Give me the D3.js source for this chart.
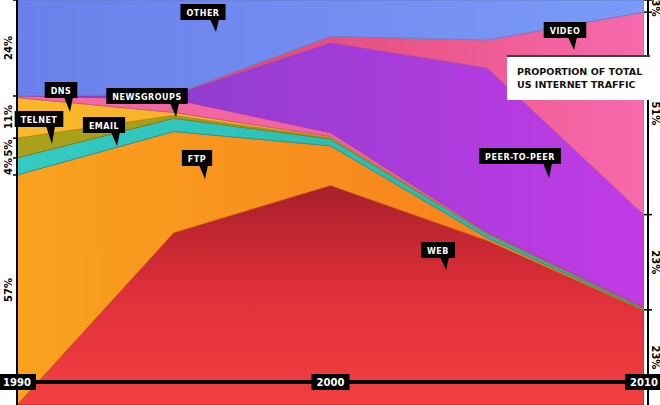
<!DOCTYPE html>
<html><head><meta charset="utf-8">
<script src="https://cdn.jsdelivr.net/npm/d3@7"></script>
<style>body{margin:0;background:#fff}svg{display:block}</style>
</head><body>
<svg id="c" width="660" height="405"></svg>
<script>
const years = [1990, 1995, 2000, 2005, 2010];
const web        = [0,    41.5, 54.8, 40.7, 23.5];
const ftp        = [56.8, 24.4, 9.9,  0.7,  0.3];
const email      = [4.2,  3.2,  1.7,  1.0,  0.3];
const telnet     = [4.9,  0.7,  0.3,  0.1,  0.1];
const dns        = [10.0, 0.7,  0.3,  0.1,  0.1];
const newsgroups = [0.4,  3.2,  1.0,  0.2,  0.1];
const p2p        = [0,    1.2,  22.5, 40.7, 23.0];
const video      = [0,    0.0,  1.5,  6.9,  50.6];
const other      = [23.7, 22.7, 9.1,  9.9,  3.0];
const seriesNames = ["web","ftp","email","telnet","dns","newsgroups","p2p","video","other"];
const seriesVals = [web,ftp,email,telnet,dns,newsgroups,p2p,video,other];
const leftTicks = [{lab:"57%",a:0,b:56.8},{lab:"4%",a:56.8,b:61},{lab:"5%",a:61,b:65.9},{lab:"11%",a:65.9,b:76.3},{lab:"24%",a:76.3,b:100}];
const rightTicks = [{lab:"23%",a:0,b:23.5},{lab:"23%",a:23.5,b:47},{lab:"51%",a:47,b:97},{lab:"3%",a:97,b:100}];
const yearLabels = ["1990","2000","2010"];
const callouts = [
 {t:"OTHER",x:203,y:12,tx:216,ty:32},{t:"VIDEO",x:565,y:30,tx:574,ty:50},
 {t:"DNS",x:61,y:90,tx:70,ty:112},{t:"NEWSGROUPS",x:147,y:96,tx:176,ty:117},
 {t:"TELNET",x:39,y:119,tx:52,ty:144},{t:"EMAIL",x:104,y:125,tx:117,ty:146},
 {t:"FTP",x:197,y:158,tx:205,ty:179},{t:"PEER-TO-PEER",x:520,y:156,tx:549,ty:178},
 {t:"WEB",x:438,y:250,tx:446,ty:270}];

const colors = {web:["#f03a3a","#c9232e"],ftp:["#f9a21e","#f7781c"],email:["#34cbc2","#22b3ad"],telnet:["#aaa11c","#9a9416"],
 dns:["#f9b82a","#f6a623"],newsgroups:["#f36aa5","#ee5e98"],p2p:["#7e3ec8","#c23be6"],video:["#d8344e","#f66aac"],other:["#6a80ea","#7b9af7"]};

const svg = d3.select("#c");
const W=660,H=405;
const x = d3.scaleLinear().domain([1990,2010]).range([17,644]);
const y = d3.scaleLinear().domain([0,100]).range([405,0]);
const table = years.map((yr,i)=>{const o={year:yr};seriesNames.forEach((n,k)=>o[n]=seriesVals[k][i]);return o;});
const stack = d3.stack().keys(seriesNames).offset(d3.stackOffsetExpand);
const layers = stack(table);
const defs = svg.append("defs");
seriesNames.forEach(n=>{
  const g=defs.append("linearGradient").attr("id","g_"+n).attr("x1","0").attr("x2","1").attr("y1","0").attr("y2","0");
  g.append("stop").attr("offset","0").attr("stop-color",colors[n][0]);
  g.append("stop").attr("offset","1").attr("stop-color",colors[n][1]);
});
const wg=defs.append("linearGradient").attr("id","g_webv").attr("x1","0").attr("x2","0").attr("y1","0").attr("y2","1");
wg.append("stop").attr("offset","0").attr("stop-color","#a81f2a");
wg.append("stop").attr("offset","0.5").attr("stop-color","#e0303a");
wg.append("stop").attr("offset","1").attr("stop-color","#f24040");
const area = d3.area().x(d=>x(d.data.year)).y0(d=>y(d[0]*100)).y1(d=>y(d[1]*100));
svg.append("rect").attr("x",0).attr("y",0).attr("width",W).attr("height",H).attr("fill","#fff");
svg.append("g").selectAll("path").data(layers).join("path")
  .attr("d",area).attr("fill",d=>d.key==="web"?"url(#g_webv)":"url(#g_"+d.key+")")
  .attr("stroke",d=>d3.color(colors[d.key][1]).darker(0.6)).attr("stroke-width",0.8);
const ax = svg.append("g");
ax.append("rect").attr("x",0).attr("y",0).attr("width",17).attr("height",H).attr("fill","#fff");
ax.append("rect").attr("x",644).attr("y",0).attr("width",16).attr("height",H).attr("fill","#fff");
ax.append("line").attr("x1",17).attr("x2",17).attr("y1",0).attr("y2",H).attr("stroke","#000").attr("stroke-width",2);
ax.append("line").attr("x1",648).attr("x2",648).attr("y1",0).attr("y2",H).attr("stroke","#000").attr("stroke-width",2);
leftTicks.forEach(t=>{
  ax.append("line").attr("x1",13).attr("x2",17).attr("y1",y(t.b)).attr("y2",y(t.b)).attr("stroke","#000").attr("stroke-width",1.5);
  const cy=(y(t.a)+y(t.b))/2;
  ax.append("text").attr("transform",`translate(8,${cy}) rotate(-90)`).attr("text-anchor","middle").attr("dy","0.35em")
   .attr("font-family","'DejaVu Sans', sans-serif").attr("font-weight","bold").attr("font-size",10).text(t.lab);
});
rightTicks.forEach(t=>{
  ax.append("line").attr("x1",644).attr("x2",652).attr("y1",y(t.b)).attr("y2",y(t.b)).attr("stroke","#000").attr("stroke-width",1.5);
  const cy=(y(t.a)+y(t.b))/2;
  ax.append("text").attr("transform",`translate(655,${t.lab==="3%"?8:cy}) rotate(90)`).attr("text-anchor","middle").attr("dy","0.35em")
   .attr("font-family","'DejaVu Sans', sans-serif").attr("font-weight","bold").attr("font-size",10).text(t.lab);
});
svg.append("rect").attr("x",507).attr("y",55).attr("width",143).attr("height",45).attr("fill","#fff");
svg.append("path").attr("d","M507,56 H650").attr("stroke","#000").attr("stroke-width",1.5);
svg.append("text").attr("x",517).attr("y",75).attr("font-family","'DejaVu Sans', sans-serif").attr("font-weight","bold").attr("font-size",9.5).attr("fill","#111").text("PROPORTION OF TOTAL");
svg.append("text").attr("x",517).attr("y",88).attr("font-family","'DejaVu Sans', sans-serif").attr("font-weight","bold").attr("font-size",9.5).attr("fill","#111").text("US INTERNET TRAFFIC");
svg.append("line").attr("x1",17).attr("x2",648).attr("y1",382).attr("y2",382).attr("stroke","#000").attr("stroke-width",4);
yearLabels.forEach(l=>{
  const cx=x(+l);
  const g=svg.append("g");
  g.append("rect").attr("x",cx-19).attr("y",374).attr("width",38).attr("height",16).attr("fill","#000");
  g.append("text").attr("x",cx).attr("y",386).attr("text-anchor","middle").attr("fill","#fff").attr("font-family","'DejaVu Sans', sans-serif").attr("font-weight","bold").attr("font-size",10).text(l);
});
callouts.forEach(c=>{
  const g=svg.append("g");
  const t=g.append("text").attr("x",c.x).attr("y",c.y+3.5).attr("text-anchor","middle").attr("fill","#fff")
    .attr("font-family","'DejaVu Sans', sans-serif").attr("font-weight","bold").attr("font-size",8).attr("letter-spacing",0.5).text(c.t);
  const w=t.node().getComputedTextLength()+12;
  g.insert("path","text").attr("d",`M${c.tx-6},${c.y+7} L${c.tx},${c.ty} L${c.tx+3},${c.y+7}Z`).attr("fill","#000");
  g.insert("rect","text").attr("x",c.x-w/2).attr("y",c.y-8).attr("width",w).attr("height",16).attr("fill","#000");
});
</script>
</body></html>
